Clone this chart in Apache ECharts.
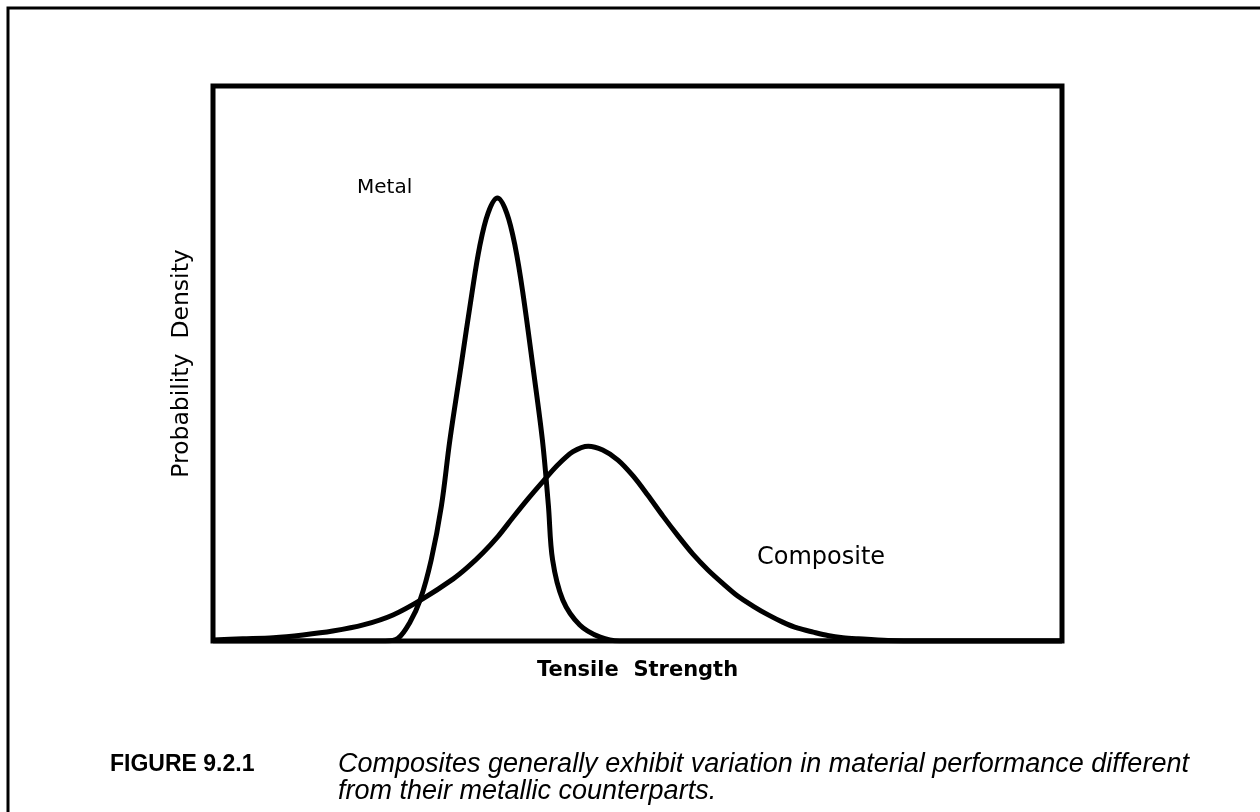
<!DOCTYPE html>
<html lang="en">
<head>
	<meta charset="UTF-8">
	<title>Figure 9.2.1</title>
	<style type="text/css">
	body,html{
		width: 100%;
		height: 100%;
		margin: 0;
		padding: 0;
		background: #fff;
	}
	#chart{
		width: 1260px;
		height: 812px;
	}
	</style>
</head>
<body>
<div id="chart"></div>
<script type="text/javascript" src="https://cdn.jsdelivr.net/npm/echarts@6/dist/echarts.min.js"></script>
<script type="text/javascript">
// tensile strength (arbitrary units) and probability density
var metalX = [0, 20.3, 21.8, 23.2, 24.4, 25.7, 26.9, 27.9, 29.2, 30.5, 31.4, 32.4, 33.5, 34.6, 35.6, 36.5, 37.7, 38.8, 39.5, 40.0, 41.2, 43.2, 45.6, 47.9, 100];
var metalY = [0, 0, 0.5, 3.4, 7.4, 14.6, 24.3, 36.2, 49.4, 62.7, 71.0, 77.1, 79.8, 77.1, 71.0, 62.7, 49.2, 36.2, 24.5, 14.6, 7.4, 2.9, 0.7, 0, 0];

var compositeX = [0, 3.5, 7.1, 10.6, 14.1, 17.7, 21.2, 24.7, 28.3, 30.0, 31.8, 33.6, 35.3, 37.1, 38.9, 40.6, 42.4, 44.2, 45.9, 47.7, 49.5, 51.2, 53.0, 54.8, 56.5, 58.3, 60.1, 61.8, 63.6, 65.4, 67.1, 68.9, 70.7, 72.4, 74.2, 76.0, 79.5, 83.3, 100];
var compositeY = [0.2, 0.4, 0.6, 1.1, 1.8, 2.9, 4.7, 7.6, 11.2, 13.3, 15.9, 18.9, 22.2, 25.6, 28.8, 31.7, 34.1, 35.1, 34.4, 32.6, 29.7, 26.3, 22.5, 18.9, 15.7, 12.8, 10.3, 8.1, 6.3, 4.7, 3.4, 2.3, 1.6, 1.0, 0.6, 0.4, 0.1, 0, 0];

var xTitle = 'Tensile  Strength';
var yTitle = 'Probability  Density';
var captionHead = 'FIGURE 9.2.1';
var captionLines = ['Composites generally exhibit variation in material performance different', 'from their metallic counterparts.'];

function pairs(xs, ys){
	var out = [];
	for (var i = 0; i < xs.length; i++) out.push([xs[i], ys[i]]);
	return out;
}

var chart = echarts.init(document.getElementById('chart'), null, {renderer: 'canvas'});

var option = {
	backgroundColor: '#fff',
	animation: false,
	grid: {
		left: 213, top: 86, width: 849, height: 555,
		show: true,
		borderColor: '#000',
		borderWidth: 5
	},
	xAxis: {
		type: 'value', min: 0, max: 100,
		axisLine: {show: false}, axisTick: {show: false},
		axisLabel: {show: false}, splitLine: {show: false},
		name: xTitle, nameLocation: 'middle', nameGap: 19,
		nameTextStyle: {fontFamily: 'DejaVu Sans', fontSize: 21, fontWeight: 'bold', color: '#000'}
	},
	yAxis: {
		type: 'value', min: 0, max: 100,
		axisLine: {show: false}, axisTick: {show: false},
		axisLabel: {show: false}, splitLine: {show: false},
		name: yTitle, nameLocation: 'middle', nameGap: 19, nameRotate: 90,
		nameTextStyle: {fontFamily: 'DejaVu Sans', fontSize: 23.5, color: '#000'}
	},
	series: [{
		name: 'Metal', type: 'line', smooth: 0.35, symbol: 'none',
		data: pairs(metalX, metalY),
		lineStyle: {color: '#000', width: 5}
	}, {
		name: 'Composite', type: 'line', smooth: 0.3, symbol: 'none',
		data: pairs(compositeX, compositeY),
		lineStyle: {color: '#000', width: 5}
	}],
	graphic: [{
		type: 'rect', silent: true,
		shape: {x: 8, y: 8, width: 1400, height: 1000},
		style: {fill: 'none', stroke: '#000', lineWidth: 3}
	}, {
		type: 'text', left: 357, top: 178,
		style: {text: 'Metal', font: '20px "DejaVu Sans"', fill: '#000'}
	}, {
		type: 'text', left: 757, top: 546,
		style: {text: 'Composite', font: '24px "DejaVu Sans"', fill: '#000'}
	}, {
		type: 'text', left: 110, top: 753,
		style: {text: captionHead, font: 'bold 23px "Liberation Sans"', fill: '#000'}
	}, {
		type: 'text', left: 338, top: 751,
		style: {text: captionLines.join('\n'), font: 'italic 27px "Liberation Sans"', lineHeight: 27, fill: '#000'}
	}]
};

chart.setOption(option, true);
</script>
</body>
</html>
